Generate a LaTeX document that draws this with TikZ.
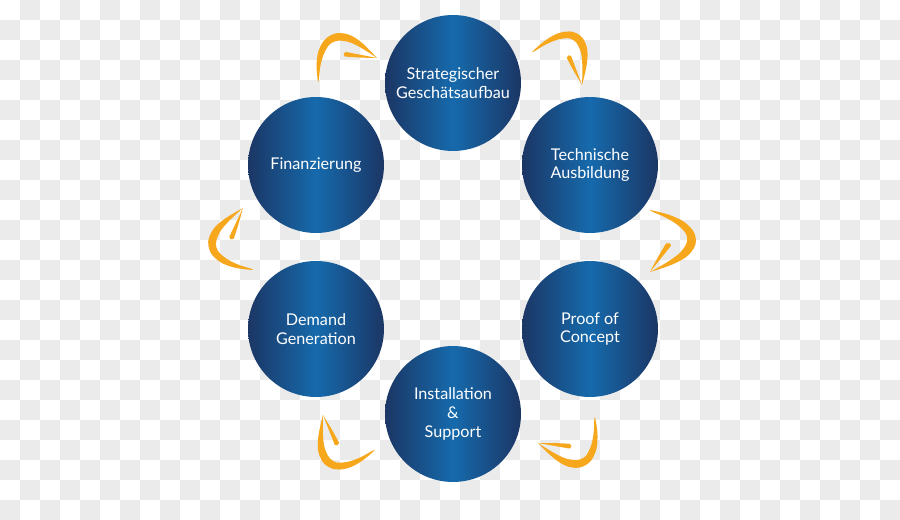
\documentclass[tikz,border=0pt]{standalone}
\usepackage{fontspec}
\setmainfont{Lato}
\definecolor{navyedge}{RGB}{27,54,101}
\definecolor{bluemid}{RGB}{22,106,172}
\definecolor{arrorange}{RGB}{246,167,28}
\definecolor{chk}{RGB}{235,235,235}
\tikzset{
  bub/.style={circle, minimum size=2.72cm, inner sep=0pt,
    left color=navyedge, right color=navyedge, middle color=bluemid,
    text=white, align=center, font=\fontsize{9.2}{10.6}\selectfont},
  arr/.style={fill=arrorange, draw=none},
  chkcell/.style={fill=chk, draw=none}
}
% #1,#2 tail (px), #3,#4 tip (px), #5 bulge factor
\newcommand\brusharrow[5]{%
  \begin{scope}[shift={(#1,-#2)},
      x={({(#3-#1)*0.02cm},{(#2-#4)*0.02cm})},
      y={({(#4-#2)*0.02cm*#5},{(#3-#1)*0.02cm*#5})}]
    \fill[arr] plot[smooth, tension=0.7] coordinates
        {(0,0) (0.09,0.31) (0.24,0.555) (0.45,0.67) (0.67,0.61) (0.85,0.385) (1,0)}
      -- plot[smooth, tension=0.7] coordinates
        {(1,0) (0.8,0.31) (0.63,0.485) (0.45,0.545) (0.29,0.455) (0.14,0.26) (0.03,0.04) (0,0)}
      -- cycle;
    \fill[arr] (0.539,0.236) .. controls (0.75,0.12) .. (1,0)
      .. controls (0.78,0.16) .. (0.581,0.304)
      .. controls (0.55,0.32) and (0.515,0.27) .. (0.539,0.236) -- cycle;
  \end{scope}}
\begin{document}
\begin{tikzpicture}[x=0.02cm, y=0.02cm]
  \useasboundingbox (0,0) rectangle (900,-520);
  \fill[white] (0,0) rectangle (900,-520);
  \foreach \j in {0,2,...,24} \foreach \i in {1,3,...,43}
    \fill[chkcell] ({\i*20},{-\j*20}) rectangle ++(20,-20);
  \foreach \j in {1,3,...,25} \foreach \i in {0,2,...,44}
    \fill[chkcell] ({\i*20},{-\j*20}) rectangle ++(20,-20);

  \node[bub] (c1) at (453,-83)  {Strategischer\\Geschätsaufbau};
  \node[bub] (c2) at (590,-165) {Technische\\Ausbildung};
  \node[bub] (c3) at (590,-329) {Proof of\\Concept};
  \node[bub] (c4) at (453,-414) {Installation\\\&\\Support};
  \node[bub] (c5) at (316,-329) {Demand\\Generation};
  \node[bub] (c6) at (316,-165) {Finanzierung};

  \brusharrow{318}{82}{377}{58}{0.9}
  \brusharrow{532}{52}{582}{85}{1.0}
  \brusharrow{650}{210}{650}{272}{1.1}
  \brusharrow{595}{417}{538}{443}{0.95}
  \brusharrow{375}{450}{323}{415}{0.95}
  \brusharrow{253}{270}{243}{208}{0.95}
\end{tikzpicture}
\end{document}
